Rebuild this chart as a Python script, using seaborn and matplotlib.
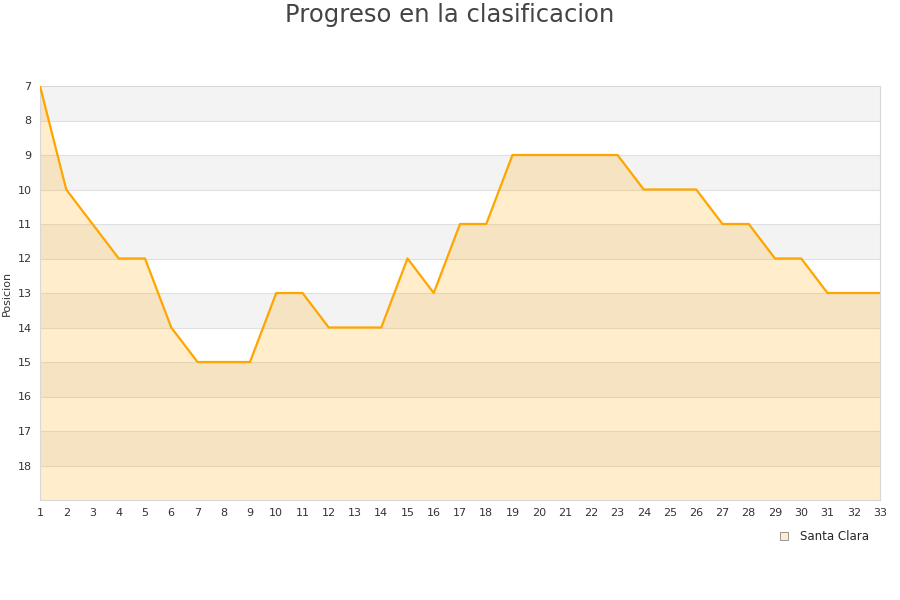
import numpy as np
import pandas as pd
import seaborn as sns
import matplotlib.pyplot as plt
from matplotlib.lines import Line2D

jornadas = list(range(1, 34))
posiciones = [7, 10, 11, 12, 12, 14, 15, 15, 15, 13, 13, 14, 14, 14, 12, 13, 11, 11,
              9, 9, 9, 9, 9, 10, 10, 10, 11, 11, 12, 12, 13, 13, 13]
equipo = 'Santa Clara'

data = pd.DataFrame({'jornada': jornadas, 'posicion': posiciones})

sns.set_style('white')
fig = plt.figure(figsize=(9, 6), dpi=100)
ax = fig.add_axes([40 / 900, 100 / 600, 840 / 900, 414 / 600])

# alternating bands
for y in range(7, 19, 2):
    ax.axhspan(y, y + 1, color='#f3f3f3', lw=0, zorder=0)
for y in range(8, 19):
    ax.axhline(y, color='#e0e0e0', lw=0.8, zorder=1)

ax.fill_between(data['jornada'], data['posicion'], 19, color='#ffa500', alpha=0.2, lw=0, zorder=2)
sns.lineplot(x='jornada', y='posicion', data=data, color='#ffa500', lw=1.6, ax=ax, zorder=3)

ax.set_xlim(1, 33)
ax.set_ylim(19, 7)
ax.set_xticks(jornadas)
ax.set_yticks(range(7, 19))
ax.tick_params(axis='both', labelsize=8, colors='#333333', length=0, pad=6)
ax.set_xlabel('')
ax.set_ylabel('Posicion', fontsize=8, color='#333333', labelpad=4)

for s in ax.spines.values():
    s.set_color('#d8d8d8')
    s.set_linewidth(0.8)

fig.suptitle('Progreso en la clasificacion', y=0.995, fontsize=17.5, color='#444444')

handle = Line2D([], [], marker='s', ls='', markersize=6, markerfacecolor='#ffeccc',
                markeredgecolor='#888888', markeredgewidth=0.6)
fig.legend([handle], [equipo], loc='center', bbox_to_anchor=(0.912, 0.105), frameon=False,
           fontsize=8.5, handletextpad=0.4)

fig.savefig('out.png', dpi=100)
